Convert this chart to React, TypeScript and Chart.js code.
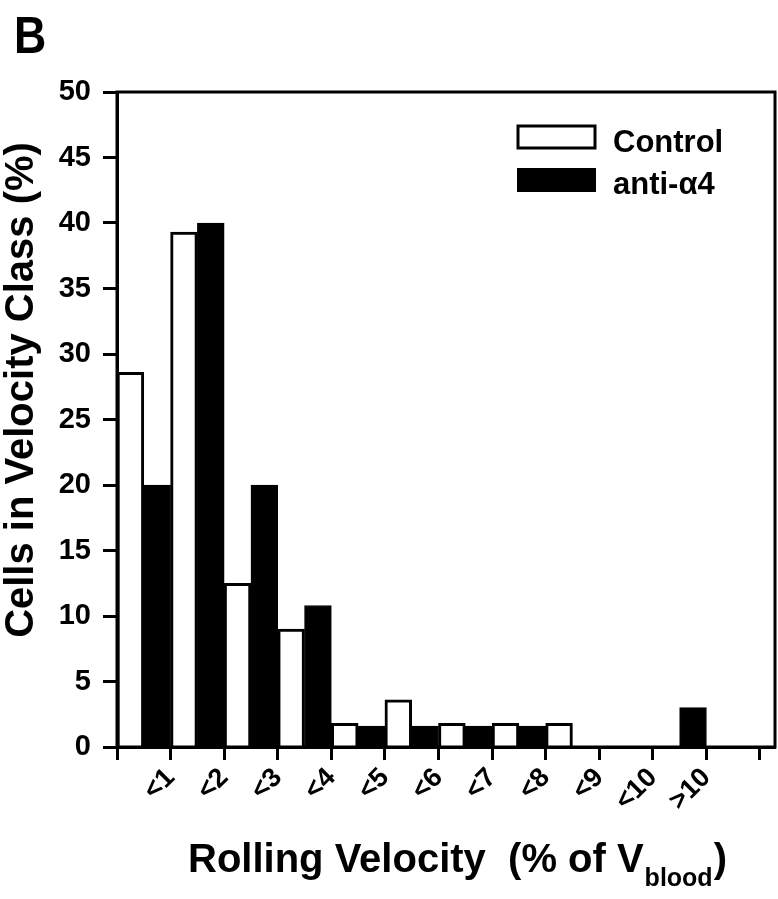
import React, { useEffect, useRef } from 'react';
import { Chart, registerables } from 'chart.js';

Chart.register(...registerables);

// ---- data ----
const categories = ['<1', '<2', '<3', '<4', '<5', '<6', '<7', '<8', '<9', '<10', '>10'];
const controlValues = [28.6, 39.3, 12.5, 9.0, 1.8, 3.6, 1.8, 1.8, 1.8, 0, 0];
const antiValues = [20.0, 40.0, 20.0, 10.8, 1.6, 1.6, 1.6, 1.6, 0, 0, 3.0];
const seriesNames = ['Control', 'anti-\u03b14'];
const yMin = 0;
const yMax = 50;
const yStep = 5;
const panelLabel = 'B';
const yTitle = 'Cells in Velocity Class (%)';
const xTitleMain = 'Rolling Velocity  (% of V';
const xTitleSub = 'blood';
const xTitleEnd = ')';

const FONT = '"Liberation Sans", Arial, Helvetica, sans-serif';

const decorPlugin = {
  id: 'decor',
  afterDraw(chart: any) {
    const { ctx, chartArea: a } = chart;
    ctx.save();
    // frame
    ctx.strokeStyle = '#000';
    ctx.lineWidth = 3;
    ctx.strokeRect(a.left, a.top, a.right - a.left, a.bottom - a.top);

    // legend
    const lx = a.left + 401;
    ctx.lineWidth = 3;
    ctx.fillStyle = '#fff';
    ctx.fillRect(lx, a.top + 34, 77, 22);
    ctx.strokeRect(lx, a.top + 34, 77, 22);
    ctx.fillStyle = '#000';
    ctx.fillRect(lx - 1, a.top + 76, 79, 24);
    ctx.font = `bold 31px ${FONT}`;
    ctx.textAlign = 'left';
    ctx.textBaseline = 'alphabetic';
    ctx.fillText(seriesNames[0], lx + 95, a.top + 60);
    ctx.fillText(seriesNames[1], lx + 95, a.top + 102);

    // panel label
    ctx.save();
    ctx.translate(14, 53);
    ctx.scale(0.95, 1.12);
    ctx.font = `bold 47px ${FONT}`;
    ctx.fillText(panelLabel, 0, 0);
    ctx.restore();

    // y title
    ctx.save();
    ctx.translate(33, 390);
    ctx.rotate(-Math.PI / 2);
    ctx.font = `bold 40px ${FONT}`;
    ctx.textAlign = 'center';
    ctx.fillText(yTitle, 0, 0);
    ctx.restore();

    // x title
    let x = 188;
    const base = 872;
    ctx.font = `bold 40px ${FONT}`;
    ctx.fillText(xTitleMain, x, base);
    x += ctx.measureText(xTitleMain).width + 1;
    ctx.font = `bold 25px ${FONT}`;
    ctx.fillText(xTitleSub, x, base + 14);
    x += ctx.measureText(xTitleSub).width + 1;
    ctx.font = `bold 40px ${FONT}`;
    ctx.fillText(xTitleEnd, x, base);
    ctx.restore();
  },
};

export default function App() {
  const canvasRef = useRef<HTMLCanvasElement | null>(null);

  useEffect(() => {
    if (!canvasRef.current) return;
    const chart = new Chart(canvasRef.current, {
      type: 'bar',
      data: {
        datasets: [
          {
            label: seriesNames[0],
            data: controlValues.map((v, i) => ({ x: i + 0.5, y: v })),
            backgroundColor: '#ffffff',
            borderColor: '#000000',
            borderWidth: 3,
            categoryPercentage: 1,
            barPercentage: 1,
          },
          {
            label: seriesNames[1],
            data: antiValues.map((v, i) => ({ x: i + 0.5, y: v })),
            backgroundColor: '#000000',
            borderColor: '#000000',
            borderWidth: 1,
            categoryPercentage: 1,
            barPercentage: 1,
          },
        ],
      },
      options: {
        animation: false,
        responsive: true,
        maintainAspectRatio: false,
        layout: { padding: { top: 92, right: 3, left: 0, bottom: 0 } },
        plugins: {
          legend: { display: false },
          tooltip: { enabled: false },
        },
        scales: {
          x: {
            type: 'linear',
            position: 'bottom',
            offset: false,
            min: 0,
            max: 12.28,
            grid: {
              offset: false,
              drawOnChartArea: false,
              drawTicks: true,
              tickLength: 13,
              tickWidth: 3,
              tickColor: '#000',
            },
            border: { display: true, color: '#000', width: 3 },
            ticks: {
              stepSize: 1,
              includeBounds: false,
              autoSkip: false,
              minRotation: 45,
              maxRotation: 45,
              padding: 2,
              color: '#000',
              font: { family: FONT, size: 27, weight: 'bold' },
              callback: (value: any) => {
                const k = Math.round(Number(value));
                return k >= 1 && k <= categories.length ? categories[k - 1] : '';
              },
            },
            afterFit: (s: any) => {
              s.height = 152;
              s.paddingLeft = 0;
              s.paddingRight = 0;
            },
          },
          y: {
            type: 'linear',
            min: yMin,
            max: yMax,
            grid: {
              drawOnChartArea: false,
              drawTicks: true,
              tickLength: 14,
              tickWidth: 3,
              tickColor: '#000',
            },
            border: { display: true, color: '#000', width: 3 },
            ticks: {
              stepSize: yStep,
              padding: 12,
              color: '#000',
              font: { family: FONT, size: 29, weight: 'bold' },
            },
            afterFit: (s: any) => {
              s.width = 117;
              s.paddingTop = 0;
              s.paddingBottom = 0;
            },
          },
        },
      } as any,
      plugins: [decorPlugin],
    });
    return () => chart.destroy();
  }, []);

  return (
    <div style={{ position: 'absolute', left: 0, top: 0, width: 778, height: 899, background: '#fff' }}>
      <canvas ref={canvasRef} />
    </div>
  );
}
